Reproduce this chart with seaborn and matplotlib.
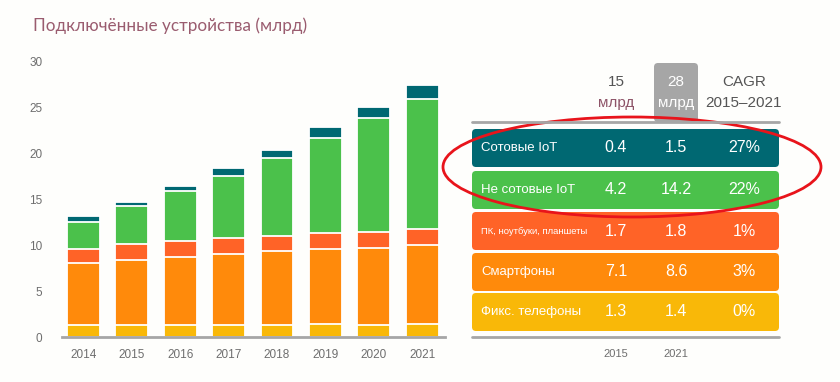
import numpy as np
import pandas as pd

import matplotlib
matplotlib.use("Agg")

import matplotlib.pyplot as plt
import seaborn as sns
from matplotlib.patches import FancyBboxPatch, Ellipse

years = ["2014", "2015", "2016", "2017", "2018", "2019", "2020", "2021"]
fixed_phones = [1.35, 1.3, 1.35, 1.35, 1.35, 1.45, 1.35, 1.4]
smartphones = [6.7, 7.1, 7.4, 7.75, 8.0, 8.1, 8.4, 8.6]
pc_tablets = [1.6, 1.7, 1.75, 1.65, 1.7, 1.75, 1.7, 1.8]
noncell_iot = [2.95, 4.2, 5.45, 6.85, 8.45, 10.4, 12.4, 14.2]
cell_iot = [0.55, 0.4, 0.55, 0.85, 0.9, 1.2, 1.25, 1.5]

row_labels = ["Сотовые IoT", "Не сотовые IoT", "ПК, ноутбуки, планшеты", "Смартфоны", "Фикс. телефоны"]
vals_2015 = ["0.4", "4.2", "1.7", "7.1", "1.3"]
vals_2021 = ["1.5", "14.2", "1.8", "8.6", "1.4"]
cagr = ["27%", "22%", "1%", "3%", "0%"]
total_2015 = "15"
total_2021 = "28"

TEAL = "#006872"
GREEN = "#4BC14B"
RED = "#FF6327"
ORANGE = "#FF8A0B"
YELLOW = "#F9B808"
row_colors = [TEAL, GREEN, RED, ORANGE, YELLOW]

sns.set_style("white")
plt.rcParams["font.family"] = ["Liberation Sans", "DejaVu Sans"]

BG = "#FEFEFC"
fig = plt.figure(figsize=(8.4, 3.82), dpi=100, facecolor=BG)

# ---- stacked bars (overlapping cumulative totals) ----
ax = fig.add_axes([62 / 840, 45 / 382, 383 / 840, 275 / 382])
ax.set_facecolor(BG)

df = pd.DataFrame({
    "year": years,
    "fixed": fixed_phones,
    "smart": smartphones,
    "pc": pc_tablets,
    "noncell": noncell_iot,
    "cell": cell_iot,
})
layers = ["fixed", "smart", "pc", "noncell", "cell"]
layer_colors = [YELLOW, ORANGE, RED, GREEN, TEAL]
cum = df[layers].cumsum(axis=1)

for col, c in reversed(list(zip(layers, layer_colors))):
    sns.barplot(x=df["year"], y=cum[col], color=c, width=0.68, saturation=1,
                edgecolor="white", linewidth=1.3, ax=ax, zorder=2)

ax.set_ylim(0, 30)
ax.set_xlim(-0.44, 7.47)
ax.set_yticks([0, 5, 10, 15, 20, 25, 30])
ax.set_xlabel("")
ax.set_ylabel("")
for s in ["left", "right", "top"]:
    ax.spines[s].set_visible(False)
ax.spines["bottom"].set_color("#a6a6a6")
ax.spines["bottom"].set_linewidth(2)
ax.tick_params(axis="both", length=0, labelsize=8.5, labelcolor="#6e6e6e")
ax.tick_params(axis="x", pad=9)
ax.tick_params(axis="y", pad=14)

# ---- title ----
fig.text(33 / 840, 1 - 26 / 382, "Подключённые устройства (млрд)", fontsize=12.3,
         color="#9A5C6F", family=["Lato", "DejaVu Sans"], va="center", ha="left")

# ---- table on the right (pixel coordinates) ----
ov = fig.add_axes([0, 0, 1, 1], facecolor="none")
ov.set_xlim(0, 840)
ov.set_ylim(382, 0)
ov.axis("off")

X_L, X_R = 472, 779
COL_X = [616, 676, 744]
row_top = [129, 171, 212, 253, 293]
ROW_H = 38
HDR = 11

ov.add_patch(FancyBboxPatch((654, 63), 44, 59, boxstyle="round,pad=0,rounding_size=4",
                            facecolor="#A6A6A6", edgecolor="none"))
ov.text(COL_X[0], 82, total_2015, ha="center", va="center", fontsize=HDR, color="#555555")
ov.text(COL_X[0], 103, "млрд", ha="center", va="center", fontsize=HDR, color="#8E5468")
ov.text(COL_X[1], 82, total_2021, ha="center", va="center", fontsize=HDR, color="white")
ov.text(COL_X[1], 103, "млрд", ha="center", va="center", fontsize=HDR, color="white")
ov.text(COL_X[2], 82, "CAGR", ha="center", va="center", fontsize=HDR, color="#555555")
ov.text(COL_X[2], 103, "2015–2021", ha="center", va="center", fontsize=HDR, color="#555555")

ov.plot([X_L, X_R], [122, 122], color="#A6A6A6", lw=2)
ov.plot([X_L, X_R], [337, 337], color="#A6A6A6", lw=2)

for i, lab in enumerate(row_labels):
    y0 = row_top[i]
    ov.add_patch(FancyBboxPatch((X_L, y0), X_R - X_L, ROW_H,
                                boxstyle="round,pad=0,rounding_size=4",
                                facecolor=row_colors[i], edgecolor="none"))
    yc = y0 + ROW_H / 2
    fs = 6.8 if len(lab) > 16 else 9.5
    ov.text(481, yc, lab, ha="left", va="center", fontsize=fs, color="white")
    ov.text(COL_X[0], yc, vals_2015[i], ha="center", va="center", fontsize=11.5, color="white")
    ov.text(COL_X[1], yc, vals_2021[i], ha="center", va="center", fontsize=11.5, color="white")
    ov.text(COL_X[2], yc, cagr[i], ha="center", va="center", fontsize=11.5, color="white")

ov.text(COL_X[0], 354, "2015", ha="center", va="center", fontsize=8, color="#6e6e6e")
ov.text(COL_X[1], 354, "2021", ha="center", va="center", fontsize=8, color="#6e6e6e")

ov.add_patch(Ellipse((632, 167), 378, 100, facecolor="none", edgecolor="#E8141B", lw=2))

fig.savefig("out.png", dpi=100, facecolor=BG)
plt.close()
